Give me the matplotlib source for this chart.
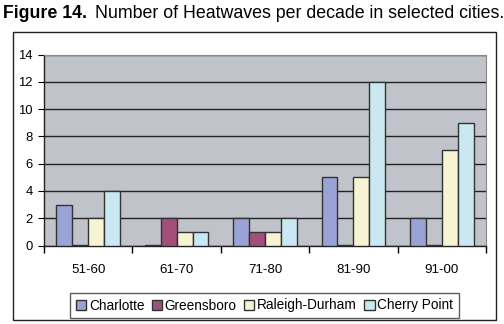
import matplotlib
matplotlib.use("Agg")

import matplotlib.pyplot as plt
from matplotlib.patches import Rectangle
import numpy as np

# ---------------------------------------------------------------------------
# Data
# ---------------------------------------------------------------------------
decades = ["51-60", "61-70", "71-80", "81-90", "91-00"]
cities = ["Charlotte", "Greensboro", "Raleigh-Durham", "Cherry Point"]
charlotte = [3, 0, 2, 5, 2]
greensboro = [0, 2, 1, 0, 0]
raleigh = [2, 1, 1, 5, 7]
cherry = [4, 1, 2, 12, 9]
series = [charlotte, greensboro, raleigh, cherry]

colors = ["#9AA3D6", "#A2507A", "#F6F4D2", "#CAE8F2"]
BG = "#C0C3C9"
W, H = 504, 324

plt.rcParams["font.family"] = ["Liberation Sans", "DejaVu Sans"]

fig = plt.figure(figsize=(W / 100, H / 100), dpi=100)

# outer frame
fig.patches.append(Rectangle((13 / W, 1 - 320 / H), (496 - 13) / W, (320 - 32) / H,
                             transform=fig.transFigure, fill=False,
                             edgecolor="#222222", linewidth=1.0))

# title: bold prefix + normal text
fig.text(3 / W, 1 - 13 / H, "Figure 14.", fontsize=12.8, weight="bold",
         ha="left", va="center")
fig.text(95 / W, 1 - 13 / H, "Number of Heatwaves per decade in selected cities.",
         fontsize=12.8, ha="left", va="center")

# plot area
ax = fig.add_axes([44 / W, 1 - 245.5 / H, (486 - 44) / W, (245.5 - 54.5) / H])
ax.set_facecolor(BG)

x = np.arange(len(decades))
bw = 0.18
for i, (vals, c, name) in enumerate(zip(series, colors, cities)):
    v = np.array(vals, dtype=float)
    v = np.where(v == 0, 0.06, v)  # zeros show as hairline bars
    ax.bar(x + (i - 1.5) * bw, v, bw, color=c, edgecolor="#333333",
           linewidth=1.0, label=name, zorder=3)

ax.set_xlim(-0.5, len(decades) - 0.5)
ax.set_ylim(0, 14)
ax.set_yticks(range(0, 15, 2))
ax.yaxis.grid(True, color="#222222", linewidth=1.0, zorder=1)
ax.set_axisbelow(True)

ax.set_xticks(x)
ax.set_xticklabels(decades)
ax.tick_params(axis="x", which="major", length=0, pad=13, labelsize=9.6)
ax.set_xticks(np.arange(-0.5, len(decades), 1.0), minor=True)
ax.tick_params(axis="x", which="minor", length=5, direction="out", width=1.0)
ax.tick_params(axis="y", length=4, direction="out", labelsize=9.4, pad=4)

for s in ["top", "right"]:
    ax.spines[s].set_color("#888888")
    ax.spines[s].set_linewidth(0.8)
for s in ["left", "bottom"]:
    ax.spines[s].set_color("#222222")
    ax.spines[s].set_linewidth(1.0)

leg = fig.legend(loc="center", bbox_to_anchor=(264.5 / W, 1 - 305.5 / H), ncol=4,
                 fontsize=9.8, frameon=True, fancybox=False, handlelength=0.75,
                 handleheight=0.75, handletextpad=0.2, columnspacing=0.55,
                 borderpad=0.4, edgecolor="#333333")
leg.get_frame().set_linewidth(1.0)

fig.savefig("out.png", dpi=100, facecolor="white")
plt.close(fig)
